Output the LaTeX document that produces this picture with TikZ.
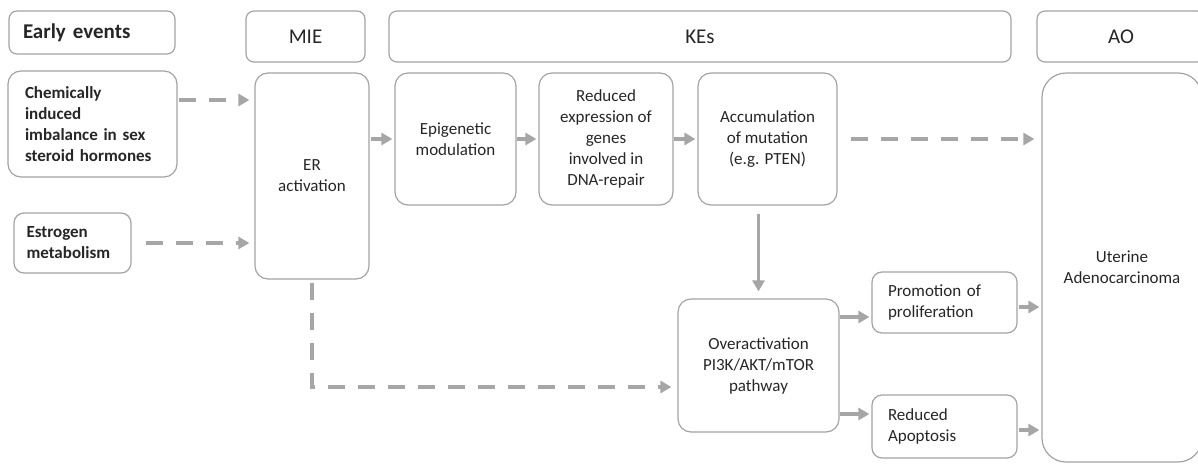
\documentclass[tikz,border=0pt]{standalone}
\usepackage{fontspec}
\setmainfont{Carlito}
\usetikzlibrary{arrows.meta}
\definecolor{linegray}{HTML}{A6A6A6}
\definecolor{boxgray}{HTML}{A3A3A3}
\definecolor{txtgray}{HTML}{262626}

\begin{document}
\begin{tikzpicture}[x=1pt,y=-1pt,
  box/.style={draw=boxgray,line width=1.2pt,rounded corners=13pt,align=center,
    text=txtgray,font=\fontsize{17}{21}\selectfont,inner sep=2pt},
  hdr/.style={box,rounded corners=8pt,font=\fontsize{21}{25}\selectfont},
  lbox/.style={box,align=left,font=\bfseries\fontsize{17}{21}\selectfont},
  arr/.style={draw=linegray,line width=3.5pt,-{Triangle[length=11pt,width=12pt]}},
  dasharr/.style={arr,dash pattern=on 17pt off 13pt}]
  \useasboundingbox (0,0) rectangle (1198,463);

  % Column headers
  \node[hdr,align=left,font=\bfseries\fontsize{21}{25}\selectfont,text width=138pt,
    inner xsep=14pt,minimum height=43pt] (early) at (92,32.5) {Early events};
  \node[hdr,minimum width=119pt,minimum height=51pt] (mie) at (305.5,36.5) {MIE};
  \node[hdr,minimum width=622pt,minimum height=51pt] (kes) at (700,36.5) {KEs};
  \node[hdr,minimum width=168pt,minimum height=51pt] (ao) at (1121,36.5) {AO};

  % Early events
  \node[lbox,text width=135pt,inner xsep=17pt,minimum height=106pt] (chem) at (92.5,124)
    {Chemically\\induced\\imbalance in sex\\steroid hormones};
  \node[lbox,text width=92pt,inner xsep=12.5pt,minimum height=60pt,rounded corners=10pt]
    (estr) at (72.5,243) {Estrogen\\metabolism};

  % MIE
  \node[box,minimum width=114pt,minimum height=206pt] (er) at (312,176) {ER\\activation};

  % KEs
  \node[box,minimum width=121pt,minimum height=132pt] (epi) at (455.5,139) {Epigenetic\\modulation};
  \node[box,minimum width=134pt,minimum height=132pt] (dna) at (606,139)
    {Reduced\\expression of\\genes\\involved in\\DNA-repair};
  \node[box,minimum width=139pt,minimum height=132pt] (mut) at (767.5,139)
    {Accumulation\\of mutation\\(e.g. PTEN)};
  \node[box,minimum width=161pt,minimum height=133pt] (pi3k) at (758.5,365.5)
    {Overactivation\\PI3K/AKT/mTOR\\pathway};
  \node[lbox,font=\fontsize{17}{21}\selectfont,text width=113pt,inner xsep=16pt,
    minimum height=61pt,rounded corners=10pt] (prolif) at (944.5,302.5) {Promotion of\\proliferation};
  \node[lbox,font=\fontsize{17}{21}\selectfont,text width=113pt,inner xsep=16pt,
    minimum height=63pt,rounded corners=10pt] (apop) at (944.5,426.5) {Reduced\\Apoptosis};

  % AO
  \node[box,rounded corners=24pt,minimum width=160pt,minimum height=389pt] (uter) at (1122,267.5)
    {Uterine\\Adenocarcinoma};

  % Dashed links
  \coordinate (c1) at ([yshift=24pt]chem.east);
  \draw[dasharr,shorten <=1pt,shorten >=5pt] (c1) -- (c1 -| er.west);
  \draw[dasharr,shorten <=14pt,shorten >=5pt] (estr.east) -- (estr.east -| er.west);
  \draw[dasharr,shorten <=13pt,shorten >=7pt] (mut.east) -- (mut.east -| uter.west);
  \coordinate (c2) at ([yshift=-21.5pt]pi3k.west);
  \draw[dasharr,shorten <=3pt,shorten >=6pt] (er.south) |- (c2);

  % Solid links
  \draw[arr,shorten <=1pt,shorten >=2pt] (er.east |- epi.west) -- (epi.west);
  \draw[arr,shorten >=2pt] (epi) -- (dna);
  \draw[arr,shorten >=2pt] (dna) -- (mut);
  \draw[arr,shorten <=8pt,shorten >=7pt] (pi3k.north |- mut.south) -- (pi3k.north);
  \coordinate (c3) at ([yshift=48.5pt]pi3k.east);
  \draw[arr,shorten >=2pt] (c3) -- (c3 -| prolif.west);
  \coordinate (c4) at ([yshift=-48.5pt]pi3k.east);
  \draw[arr,shorten >=2pt] (c4) -- (c4 -| apop.west);
  \coordinate (c5) at ([yshift=-4.5pt]prolif.east);
  \draw[arr,shorten <=1pt,shorten >=2pt] (c5) -- (c5 -| uter.west);
  \coordinate (c6) at ([yshift=-3.5pt]apop.east);
  \draw[arr,shorten <=1pt,shorten >=2pt] (c6) -- (c6 -| uter.west);
\end{tikzpicture}
\end{document}
